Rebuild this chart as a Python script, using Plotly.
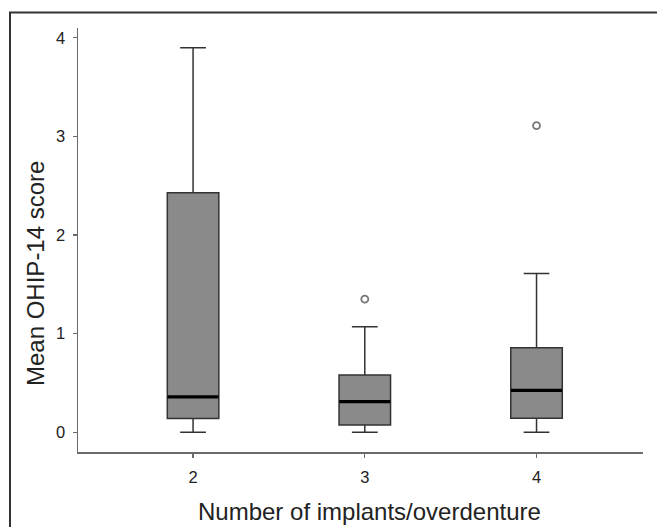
import plotly.graph_objects as go

# ---- data ----
categories = ["2", "3", "4"]
q1 = [0.14, 0.075, 0.143]
median = [0.36, 0.31, 0.425]
q3 = [2.43, 0.58, 0.857]
lower_whisker = [0.0, 0.0, 0.0]
upper_whisker = [3.90, 1.07, 1.61]
outlier_x = ["3", "4"]
outlier_y = [1.35, 3.11]
y_ticks = [0, 1, 2, 3, 4]

# ---- layout geometry (pixels) ----
W, H = 657, 527
ML, MR, MT, MB = 78, 14, 28, 75
PW, PH = W - ML - MR, H - MT - MB


def px_to_paper_x(px):
    return (px - ML) / PW


def px_to_paper_y(py):
    return (H - MB - py) / PH


FONT = "Liberation Sans, Arial, sans-serif"

fig = go.Figure()

fig.add_trace(go.Box(
    x=categories,
    q1=q1, median=median, q3=q3,
    lowerfence=lower_whisker, upperfence=upper_whisker,
    fillcolor="#8a8a8a",
    line=dict(color="#333333", width=1.5),
    width=0.30,
    whiskerwidth=0.5,
    boxpoints=False,
    showlegend=False,
    hoverinfo="skip",
))

# thick black median bars
fig.add_trace(go.Scatter(
    x=categories, y=median, mode="markers",
    marker=dict(symbol="line-ew", size=36.5,
                line=dict(color="#000000", width=3.2)),
    showlegend=False, hoverinfo="skip",
))

# outliers
fig.add_trace(go.Scatter(
    x=outlier_x, y=outlier_y, mode="markers",
    marker=dict(symbol="circle-open", size=7,
                line=dict(color="#777777", width=1.8), color="#777777"),
    showlegend=False, hoverinfo="skip",
))

fig.update_layout(
    width=W, height=H,
    margin=dict(l=ML, r=MR, t=MT, b=MB, pad=0),
    paper_bgcolor="white", plot_bgcolor="white",
    font=dict(family=FONT, color="#222222"),
    xaxis=dict(
        type="category", range=[-0.67, 2.62],
        showline=True, linecolor="#6a6a6a", linewidth=1.5,
        ticks="outside", ticklen=4, tickcolor="#6a6a6a", tickwidth=1.2,
        tickfont=dict(size=16.5, color="#222222"),
        ticklabelstandoff=6,
        showgrid=False, zeroline=False,
    ),
    yaxis=dict(
        range=[-0.2, 4.1], tickvals=y_ticks,
        showline=True, linecolor="#6a6a6a", linewidth=1.5,
        ticks="outside", ticklen=4, tickcolor="#6a6a6a", tickwidth=1.2,
        tickfont=dict(size=16.5, color="#222222"),
        ticklabelstandoff=4,
        showgrid=False, zeroline=False,
    ),
    annotations=[
        dict(text="Number of implants/overdenture", xref="paper", yref="paper",
             x=px_to_paper_x(369), y=px_to_paper_y(511), showarrow=False,
             xanchor="center", yanchor="middle",
             font=dict(size=24, color="#222222", family=FONT)),
        dict(text="Mean OHIP-14 score", xref="paper", yref="paper",
             x=px_to_paper_x(35), y=px_to_paper_y(274), showarrow=False,
             textangle=-90, xanchor="center", yanchor="middle",
             font=dict(size=24, color="#222222", family=FONT)),
    ],
    shapes=[
        dict(type="rect", xref="paper", yref="paper",
             x0=px_to_paper_x(10), x1=px_to_paper_x(W + 20),
             y0=px_to_paper_y(H + 20), y1=px_to_paper_y(12.5),
             line=dict(color="#333333", width=2), layer="below"),
    ],
)

fig.write_html(
    "out.html",
    config={"displayModeBar": False, "staticPlot": True},
    post_script="document.body.style.margin='0';document.body.style.overflow='hidden';",
)
